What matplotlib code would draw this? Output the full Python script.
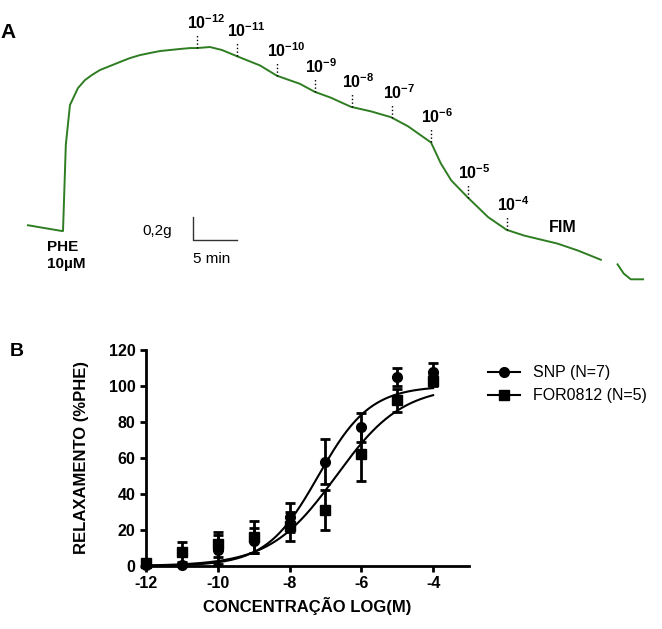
import numpy as np
import matplotlib
matplotlib.use('Agg')
import matplotlib.pyplot as plt

plt.rcParams['font.family'] = ['Liberation Sans', 'DejaVu Sans']
plt.rcParams['mathtext.fontset'] = 'custom'
plt.rcParams['mathtext.rm'] = 'Liberation Sans'
plt.rcParams['mathtext.bf'] = 'Liberation Sans:bold'
plt.rcParams['axes.unicode_minus'] = False

# ---- panel A: isometric tension trace (time in min, tension in g above baseline)
trace_t = [0.0, 3.86, 3.98, 4.3, 4.77, 5.68, 6.48, 7.27, 8.18, 9.32, 10.45, 11.59,
           12.73, 13.86, 15.0, 16.14, 17.27, 18.41, 19.2, 20.68, 22.05, 23.75, 26.36,
           28.3, 30.9, 32.6, 34.4, 36.7, 39.0, 41.25, 43.2, 45.8, 46.9, 48.1, 50.0,
           52.3, 54.4, 56.4, 60.2, 62.5, 65.1]
trace_f = [0.05, 0.0, 0.0, 0.75, 1.096, 1.243, 1.313, 1.357, 1.40, 1.435, 1.47, 1.504,
           1.53, 1.548, 1.565, 1.574, 1.583, 1.591, 1.591, 1.60, 1.574, 1.52, 1.44,
           1.35, 1.28, 1.21, 1.16, 1.08, 1.04, 0.99, 0.91, 0.77, 0.59, 0.44, 0.29,
           0.12, 0.01, -0.04, -0.11, -0.17, -0.25]
tail_t = [67.0, 67.7, 68.5, 69.9]
tail_f = [-0.29, -0.37, -0.42, -0.42]
dose_t = [19.2, 23.75, 28.3, 32.6, 36.8, 41.4, 45.8, 50.0, 54.4]
dose_exp = [-12, -11, -10, -9, -8, -7, -6, -5, -4]

# ---- panel B: concentration-response
log_c = [-12, -11, -10, -9, -8, -7, -6, -5, -4]
snp_mean = [0.5, 0.8, 9, 14, 27, 58, 77, 105, 108]
snp_err = [1, 1, 8, 7, 8, 12.5, 8, 5, 5]
for_mean = [1.5, 7.8, 12, 16, 22, 31, 62, 92, 103]
for_err = [1, 5.5, 7, 9, 8, 11, 15, 6.5, 3]
# Hill fit parameters (top, logEC50, slope)
snp_fit = (100, -7.2, 0.6)
for_fit = (100, -6.7, 0.47)

green = '#2f7d22'

fig = plt.figure(figsize=(6.62, 6.29), dpi=100)

# panel A in axes whose limits map min/g to the page
axA = fig.add_axes([0, 1 - 300 / 629, 1, 300 / 629])
axA.set_xlim(-3.18, 72.05)
axA.set_ylim(-0.6, 2.009)
axA.axis('off')
axA.plot(trace_t, trace_f, color=green, lw=1.4)
axA.plot(tail_t, tail_f, color=green, lw=1.4)

for t, e in zip(dose_t, dose_exp):
    f = np.interp(t, trace_t, trace_f)
    axA.vlines(t, f, f + 0.12, colors='k', linestyles=':', lw=1)
    axA.text(t - 1.1, f + 0.14, r'$\mathbf{10^{%d}}$' % e, fontsize=11.5,
             ha='left', va='bottom')

axA.text(60.8, 0.03, 'FIM', fontsize=11.5, fontweight='bold', ha='center', va='center')
axA.text(2.16, -0.075, 'PHE\n10µM', fontsize=11, fontweight='bold', ha='left',
         va='top', linespacing=1.3)
axA.plot([18.75, 18.75, 23.75], [0.122, -0.078, -0.078], color='#333333', lw=1)
axA.text(16.4, 0.0, '0,2g', fontsize=11, ha='right', va='center')
axA.text(18.75, -0.24, '5 min', fontsize=11, ha='left', va='center')
fig.text(0.001, 1 - 33 / 629, 'A', fontsize=15, fontweight='bold', va='center')

# panel B
ax = fig.add_axes([0.2205, 0.1002, 0.488, 0.3434])
ax.errorbar(log_c, snp_mean, yerr=snp_err, fmt='o', color='k', ms=7,
            elinewidth=2, capsize=3.5, capthick=2, clip_on=False, zorder=3)
ax.errorbar(log_c, for_mean, yerr=for_err, fmt='s', color='k', ms=7,
            elinewidth=2, capsize=3.5, capthick=2, clip_on=False, zorder=3)

xs = np.linspace(-12, -4, 200)
for top, ec50, h in (snp_fit, for_fit):
    ax.plot(xs, top / (1 + 10 ** ((ec50 - xs) * h)), color='k', lw=1.5)

ax.set_xlim(-12, -3)
ax.set_ylim(0, 120)
ax.set_xticks([-12, -10, -8, -6, -4])
ax.set_yticks(range(0, 121, 20))
for s in ('top', 'right'):
    ax.spines[s].set_visible(False)
for s in ('left', 'bottom'):
    ax.spines[s].set_linewidth(2)
ax.tick_params(width=2, length=4, labelsize=11.5)
for lab in ax.get_xticklabels() + ax.get_yticklabels():
    lab.set_fontweight('bold')
ax.set_xlabel('CONCENTRAÇÃO LOG(M)', fontsize=12, fontweight='bold', labelpad=4)
ax.set_ylabel('RELAXAMENTO (%PHE)', fontsize=12, fontweight='bold', labelpad=14)

h1 = plt.Line2D([], [], color='k', marker='o', ms=7, lw=1.5)
h2 = plt.Line2D([], [], color='k', marker='s', ms=7, lw=1.5)
fig.legend([h1, h2], ['SNP (N=7)', 'FOR0812 (N=5)'], loc='upper left',
           bbox_to_anchor=(0.716, 0.442), frameon=False, fontsize=11.5,
           handlelength=2, handletextpad=0.8, labelspacing=0.5)
fig.text(0.014, 1 - 352 / 629, 'B', fontsize=14, fontweight='bold', va='center')

fig.savefig('out.png', dpi=100)
